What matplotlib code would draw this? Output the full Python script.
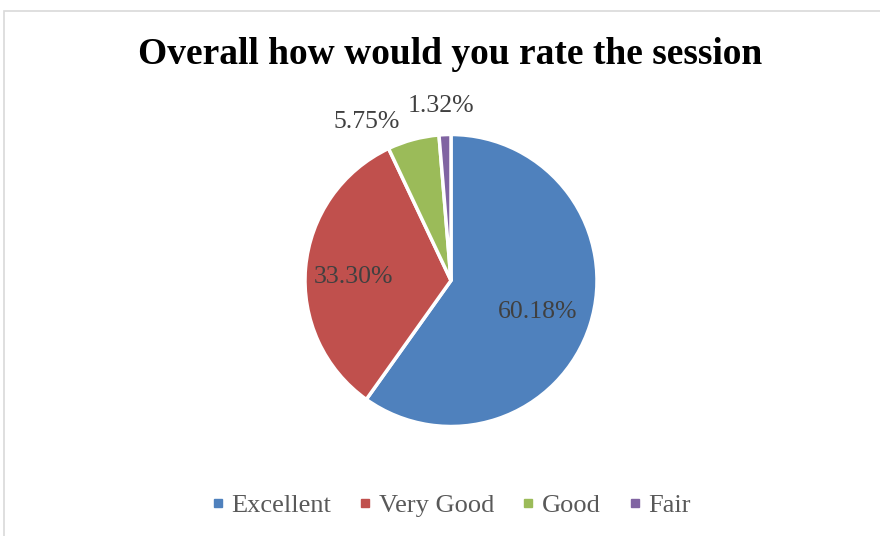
import numpy as np
import matplotlib.pyplot as plt
from matplotlib.patches import Rectangle
from matplotlib.lines import Line2D

categorias = ['Excellent', 'Very Good', 'Good', 'Fair']
valores = [60.18, 33.30, 5.75, 1.32]
etiquetas = ['60.18%', '33.30%', '5.75%', '1.32%']
colores = ['#4F81BD', '#C0504D', '#9BBB59', '#8064A2']

plt.rcParams['font.family'] = ['Liberation Serif', 'DejaVu Serif']

fig = plt.figure(figsize=(8.8, 5.36), dpi=100)

# marco gris del grafico
fig.patches.append(Rectangle((4 / 880, -0.01), 1.0, 1 - 10.5 / 536 + 0.01,
                             transform=fig.transFigure, fill=False,
                             edgecolor='#D9D9D9', linewidth=1.2))

fig.text(450 / 880, 1 - 55 / 536, 'Overall how would you rate the session',
         ha='center', va='center', fontsize=27, fontweight='bold', color='black')

cx, cy, r = 451, 280.5, 146
ax = fig.add_axes([(cx - r) / 880, (536 - cy - r) / 536, 2 * r / 880, 2 * r / 536])
wedges, _ = ax.pie(valores, colors=colores, startangle=90, counterclock=False,
                   wedgeprops=dict(edgecolor='white', linewidth=2.5))
ax.set_xlim(-1, 1)
ax.set_ylim(-1, 1)
ax.set_aspect('equal')

distancias = [0.63, 0.665, 1.23, 1.2]
ajustes = [-2, 3, 13, 1]
for w, txt, d, a in zip(wedges, etiquetas, distancias, ajustes):
    ang = np.deg2rad((w.theta1 + w.theta2) / 2 + a)
    ax.text(d * np.cos(ang), d * np.sin(ang), txt, ha='center', va='center',
            fontsize=18.5, color='#404040', clip_on=False)

manijas = [Line2D([], [], marker='s', linestyle='', markersize=6,
                  markerfacecolor=c, markeredgecolor=c) for c in colores]
fig.legend(manijas, categorias, loc='center', bbox_to_anchor=(449 / 880, 1 - 505 / 536),
           ncol=4, frameon=False, fontsize=19, labelcolor='#595959',
           handletextpad=0.1, columnspacing=0.9, handlelength=0.8)

fig.savefig('out.png', dpi=100)
